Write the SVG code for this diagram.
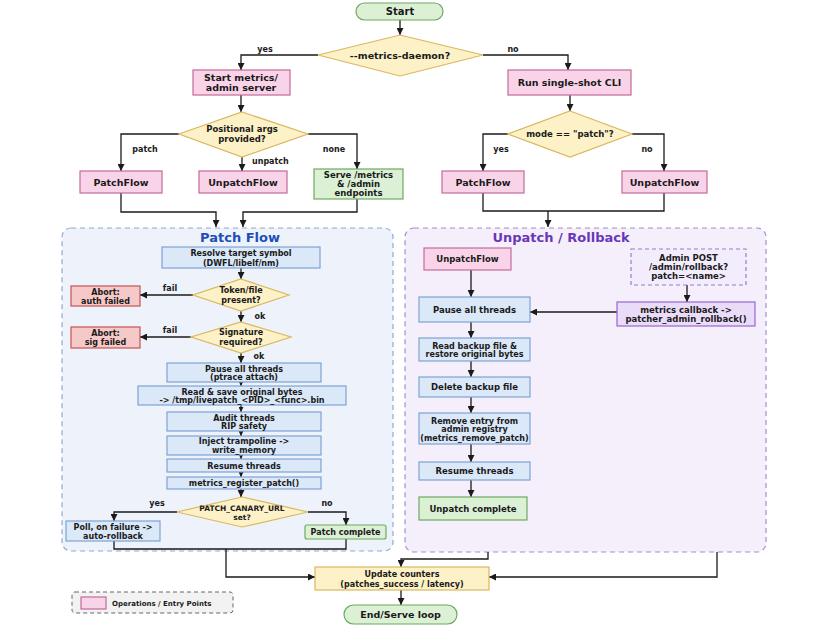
<svg xmlns="http://www.w3.org/2000/svg" width="828" height="632" viewBox="0 0 828 632">
<defs>
<marker id="ah" markerWidth="7" markerHeight="7" refX="7" refY="3.5" orient="auto" markerUnits="userSpaceOnUse">
<path d="M0,0 L7,3.5 L0,7 z" fill="#1a1a1a"/>
</marker>
<marker id="ahs" markerWidth="5" markerHeight="5" refX="5" refY="2.5" orient="auto" markerUnits="userSpaceOnUse">
<path d="M0,0 L5,2.5 L0,5 z" fill="#1a1a1a"/>
</marker>
<style>
text{font-family:"DejaVu Sans","Liberation Sans",sans-serif;font-weight:bold;fill:#1a1a1a;text-anchor:middle}
.t95{font-size:9.5px}
.t85{font-size:8.5px}
.t8{font-size:8px}
.t75{font-size:7.5px}
.lbl{font-size:8px}
.pink{fill:#f9d4e8;stroke:#c46a9a;stroke-width:1.2}
.yel{fill:#fdf1c7;stroke:#d9b85f;stroke-width:1.2}
.blue{fill:#dbe8f8;stroke:#7ea2d4;stroke-width:1.2}
.green{fill:#dcf0d5;stroke:#6daa5f;stroke-width:1.2}
.red{fill:#f6c9c9;stroke:#c65454;stroke-width:1.2}
.purp{fill:#eadcf9;stroke:#9467cf;stroke-width:1.2}
.purpd{fill:#f3ecfc;stroke:#9a7cc8;stroke-width:1.2;stroke-dasharray:4 3}
.edge{fill:none;stroke:#1a1a1a;stroke-width:1.3}
.arr{marker-end:url(#ah)}
.arrs{marker-end:url(#ahs)}
</style>
</defs>
<rect width="828" height="632" fill="#ffffff"/>

<g id="cluster-patch">
<rect x="62" y="228" width="331" height="323" rx="9" fill="#eef3fb" stroke="#8fa9d6" stroke-width="1.2" stroke-dasharray="5 4"/>
<text x="240" y="242" style="font-size:13px;fill:#1d4fb8">Patch Flow</text>
</g>
<g id="cluster-unpatch">
<rect x="405" y="228" width="361" height="324" rx="9" fill="#f4effb" stroke="#a68bd2" stroke-width="1.2" stroke-dasharray="5 4"/>
<text x="561" y="242" style="font-size:13px;fill:#6b36b8">Unpatch / Rollback</text>
</g>

<g id="connectors">
<path class="edge arr" d="M400,20 V35"/>
<path class="edge arr" d="M318,55 H241 V70"/>
<path class="edge arr" d="M483,55 H568 V70"/>
<path class="edge arr" d="M241,95 V112"/>
<path class="edge arr" d="M179,134 H121 V171"/>
<path class="edge arr" d="M242,157 V171"/>
<path class="edge arr" d="M308,134 H357 V169"/>
<path class="edge arr" d="M570,95 V111"/>
<path class="edge arr" d="M508,134 H483 V171"/>
<path class="edge arr" d="M632,134 H664 V171"/>
<path class="edge arr" d="M121,193 V212 H216 V227"/>
<path class="edge arr" d="M357,199 V212 H243 V227"/>
<path class="edge" d="M483,193 V211 H664 V193"/>
<path class="edge arr" d="M548,211 V227"/>
<!-- patch flow -->
<path class="edge arr" d="M241,268 V279"/>
<path class="edge arr" d="M193,295 H140"/>
<path class="edge arr" d="M241,311 V322"/>
<path class="edge arr" d="M191,337 H140"/>
<path class="edge arr" d="M241,353 V363"/>
<path class="edge arrs" d="M241,382 V386"/>
<path class="edge arrs" d="M241,405 V412"/>
<path class="edge arrs" d="M241,431 V436"/>
<path class="edge arrs" d="M241,455 V459"/>
<path class="edge arrs" d="M241,472 V477"/>
<path class="edge arr" d="M241,489 V497"/>
<path class="edge arr" d="M177,512 H114 V521"/>
<path class="edge arr" d="M308,512 H346 V525"/>
<path class="edge" d="M114,541 V549 H346 V539"/>
<path class="edge arr" d="M226,549 V577 H315"/>
<!-- unpatch flow -->
<path class="edge arr" d="M471,270 V297"/>
<path class="edge arr" d="M687,285 V302"/>
<path class="edge arr" d="M617,312 H530"/>
<path class="edge arr" d="M471,322 V338"/>
<path class="edge arr" d="M471,361 V377"/>
<path class="edge arr" d="M471,397 V413"/>
<path class="edge arr" d="M471,444 V462"/>
<path class="edge arr" d="M471,480 V497"/>
<path class="edge arr" d="M488,552 V559 H401 V567"/>
<path class="edge arr" d="M717,552 V577 H489"/>
<path class="edge arr" d="M401,590 V605"/>
<!-- labels -->
<text class="lbl" x="265" y="52">yes</text>
<text class="lbl" x="513" y="52">no</text>
<text class="lbl" x="145" y="152">patch</text>
<text class="lbl" x="252" y="164" style="text-anchor:start">unpatch</text>
<text class="lbl" x="334" y="152">none</text>
<text class="lbl" x="501" y="152">yes</text>
<text class="lbl" x="647" y="152">no</text>
<text class="lbl" x="170" y="291">fail</text>
<text class="lbl" x="260" y="319">ok</text>
<text class="lbl" x="170" y="333">fail</text>
<text class="lbl" x="259" y="359">ok</text>
<text class="lbl" x="157" y="506">yes</text>
<text class="lbl" x="327" y="506">no</text>
</g>

<g id="start">
<rect x="356" y="3" width="87" height="17" rx="8.5" class="green"/>
<text class="t95" x="400" y="15" style="font-size:10px">Start</text>
</g>
<g id="metrics-daemon">
<polygon points="400,35 483,55 400,76 318,55" class="yel"/>
<text class="t95" x="400" y="58.5">--metrics-daemon?</text>
</g>
<g id="start-metrics">
<rect x="193" y="70" width="97" height="25" class="pink"/>
<text class="t95" x="241" y="80.5">Start metrics/</text>
<text class="t95" x="241" y="91">admin server</text>
</g>
<g id="run-cli">
<rect x="508" y="70" width="123" height="25" class="pink"/>
<text class="t95" x="569.5" y="86">Run single-shot CLI</text>
</g>
<g id="positional-args">
<polygon points="242,112 308,134 242,157 179,134" class="yel"/>
<text class="t85" x="242" y="132">Positional args</text>
<text class="t85" x="242" y="142">provided?</text>
</g>
<g id="patchflow-l">
<rect x="80" y="171" width="82" height="22" class="pink"/>
<text class="t95" x="121" y="185.5">PatchFlow</text>
</g>
<g id="unpatchflow-l">
<rect x="199" y="171" width="88" height="22" class="pink"/>
<text class="t95" x="243" y="185.5">UnpatchFlow</text>
</g>
<g id="serve">
<rect x="314" y="169" width="89" height="30" class="green"/>
<text class="t85" x="358.5" y="178">Serve /metrics</text>
<text class="t85" x="358.5" y="187">&amp; /admin</text>
<text class="t85" x="358.5" y="196">endpoints</text>
</g>
<g id="mode-patch">
<polygon points="570,111 632,134 570,157 508,134" class="yel"/>
<text class="t85" x="570" y="137">mode == "patch"?</text>
</g>
<g id="patchflow-r">
<rect x="442" y="171" width="82" height="22" class="pink"/>
<text class="t95" x="483" y="185.5">PatchFlow</text>
</g>
<g id="unpatchflow-r">
<rect x="622" y="171" width="85" height="22" class="pink"/>
<text class="t95" x="664.5" y="185.5">UnpatchFlow</text>
</g>

<g id="resolve">
<rect x="162" y="247" width="158" height="21" class="blue"/>
<text class="t8" x="241" y="256">Resolve target symbol</text>
<text class="t8" x="241" y="265.5">(DWFL/libelf/nm)</text>
</g>
<g id="token">
<polygon points="241,279 289,295 241,311 193,295" class="yel"/>
<text class="t8" x="241" y="293">Token/file</text>
<text class="t8" x="241" y="303">present?</text>
</g>
<g id="abort-auth">
<rect x="71" y="286" width="69" height="20" class="red"/>
<text class="t8" x="105.5" y="294.5">Abort:</text>
<text class="t8" x="105.5" y="303.5">auth failed</text>
</g>
<g id="signature">
<polygon points="241,322 291,337 241,353 191,337" class="yel"/>
<text class="t8" x="241" y="335">Signature</text>
<text class="t8" x="241" y="345">required?</text>
</g>
<g id="abort-sig">
<rect x="71" y="327" width="69" height="21" class="red"/>
<text class="t8" x="105.5" y="336">Abort:</text>
<text class="t8" x="105.5" y="345">sig failed</text>
</g>
<g id="pause-p">
<rect x="167" y="363" width="154" height="19" class="blue"/>
<text class="t8" x="244" y="371.5">Pause all threads</text>
<text class="t8" x="244" y="380">(ptrace attach)</text>
</g>
<g id="read-save">
<rect x="138" y="386" width="208" height="19" class="blue"/>
<text class="t8" x="242" y="394.5">Read &amp; save original bytes</text>
<text class="t8" x="242" y="403">-&gt; /tmp/livepatch_&lt;PID&gt;_&lt;func&gt;.bin</text>
</g>
<g id="audit">
<rect x="167" y="412" width="154" height="19" class="blue"/>
<text class="t8" x="244" y="420.5">Audit threads</text>
<text class="t8" x="244" y="429">RIP safety</text>
</g>
<g id="inject">
<rect x="167" y="436" width="154" height="19" class="blue"/>
<text class="t8" x="244" y="444">Inject trampoline -&gt;</text>
<text class="t8" x="244" y="452.5">write_memory</text>
</g>
<g id="resume-p">
<rect x="167" y="459" width="154" height="13" class="blue"/>
<text class="t8" x="244" y="468.5">Resume threads</text>
</g>
<g id="register">
<rect x="167" y="477" width="154" height="12" class="blue"/>
<text class="t8" x="244" y="486">metrics_register_patch()</text>
</g>
<g id="canary">
<polygon points="242,497 308,512 242,527 177,512" class="yel"/>
<text class="t75" x="242" y="511">PATCH_CANARY_URL</text>
<text class="t75" x="242" y="520">set?</text>
</g>
<g id="poll">
<rect x="66" y="521" width="94" height="20" class="blue"/>
<text class="t8" x="113" y="529.5">Poll, on failure -&gt;</text>
<text class="t8" x="113" y="538.5">auto-rollback</text>
</g>
<g id="patch-complete">
<rect x="305" y="525" width="81" height="14" rx="2" class="green"/>
<text class="t8" x="345.5" y="535">Patch complete</text>
</g>

<g id="unpatchflow-in">
<rect x="424" y="248" width="87" height="22" class="pink"/>
<text class="t85" x="467.5" y="262">UnpatchFlow</text>
</g>
<g id="admin-post">
<rect x="631" y="249" width="115" height="36" class="purpd"/>
<text class="t85" x="688.5" y="261">Admin POST</text>
<text class="t85" x="688.5" y="270">/admin/rollback?</text>
<text class="t85" x="688.5" y="279">patch=&lt;name&gt;</text>
</g>
<g id="callback">
<rect x="617" y="302" width="138" height="24" class="purp"/>
<text class="t85" x="686" y="312.5">metrics callback -&gt;</text>
<text class="t85" x="686" y="322">patcher_admin_rollback()</text>
</g>
<g id="pause-u">
<rect x="419" y="297" width="111" height="25" class="blue"/>
<text class="t85" x="474.5" y="312.5">Pause all threads</text>
</g>
<g id="read-backup">
<rect x="419" y="338" width="111" height="23" class="blue"/>
<text class="t8" x="474.5" y="348.5">Read backup file &amp;</text>
<text class="t8" x="474.5" y="357">restore original bytes</text>
</g>
<g id="delete-backup">
<rect x="419" y="377" width="111" height="20" class="blue"/>
<text class="t85" x="474.5" y="390">Delete backup file</text>
</g>
<g id="remove-entry">
<rect x="419" y="413" width="111" height="31" class="blue"/>
<text class="t8" x="474.5" y="423.5">Remove entry from</text>
<text class="t8" x="474.5" y="432">admin registry</text>
<text class="t8" x="474.5" y="440.5">(metrics_remove_patch)</text>
</g>
<g id="resume-u">
<rect x="419" y="462" width="111" height="18" class="blue"/>
<text class="t85" x="474.5" y="474">Resume threads</text>
</g>
<g id="unpatch-complete">
<rect x="419" y="497" width="108" height="23" class="green"/>
<text class="t85" x="473" y="511.5">Unpatch complete</text>
</g>

<g id="update-counters">
<rect x="315" y="567" width="174" height="23" class="yel"/>
<text class="t8" x="402" y="577">Update counters</text>
<text class="t8" x="402" y="586.5">(patches_success / latency)</text>
</g>
<g id="end">
<rect x="344" y="605" width="113" height="19" rx="9.5" class="green"/>
<text class="t95" x="400.5" y="618">End/Serve loop</text>
</g>

<g id="legend">
<rect x="72" y="592" width="161" height="21" rx="3" fill="#f2f2f2" stroke="#666" stroke-width="1" stroke-dasharray="4 3"/>
<rect x="81" y="597" width="25" height="12" class="pink"/>
<text x="112" y="606" style="font-size:7px;text-anchor:start">Operations / Entry Points</text>
</g>
</svg>
